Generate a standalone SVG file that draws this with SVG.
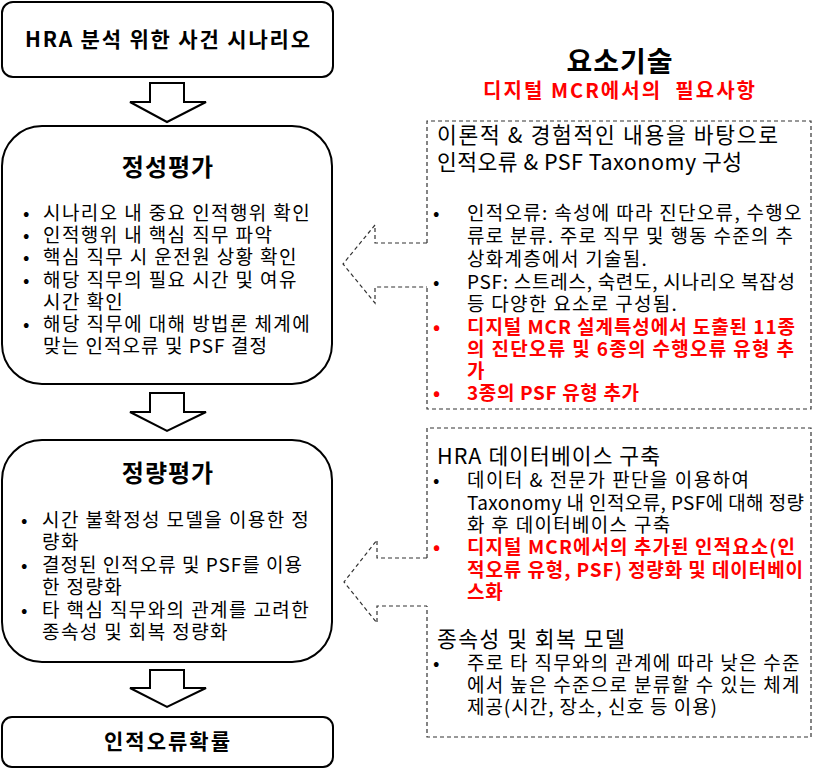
<svg xmlns="http://www.w3.org/2000/svg" width="816" height="769" viewBox="0 0 816 769">
<style>
text{font-family:"Noto Sans CJK KR","Noto Sans",sans-serif;fill:#000}
.box{fill:#fff;stroke:#000;stroke-width:2}
.blk{fill:#fff;stroke:#000;stroke-width:2;stroke-linejoin:miter}
.dash{fill:none;stroke:#333;stroke-width:1.2;stroke-dasharray:4 3}
.t{font-size:19px;letter-spacing:1.4px}
.rt{font-size:19px;letter-spacing:1.3px}
.h{font-size:21.5px;letter-spacing:1.5px}
.b{font-weight:bold}
.r{fill:#f00;font-weight:bold;letter-spacing:0.8px}
.c{text-anchor:middle}
.L{letter-spacing:0}
</style>
<rect width="816" height="769" fill="#fff"/>
<g id="connectors">
<polygon class="blk" points="150,83 184,83 184,102 206,102 167,122 130,102 150,102"/>
<polygon class="blk" points="150,393 184,393 184,412 206,412 167,431 130,412 150,412"/>
<polygon class="blk" points="150,670 184,670 184,688 206,688 167,707 130,688 150,688"/>
<polyline class="dash" points="427,243 375,243 375,225 343,264 375,303 375,287 427,287"/>
<polyline class="dash" points="427,558 377,558 377,540 344,582 377,623 377,606 427,606"/>
</g>
<g id="node-scenario">
<rect class="box" x="2" y="2" width="331" height="75" rx="11"/>
<text class="b c L" x="167.5" y="47" font-size="21" textLength="285" lengthAdjust="spacing">HRA 분석 위한 사건 시나리오</text>
</g>
<g id="node-qualitative">
<rect class="box" x="2" y="126" width="330" height="258" rx="40"/>
<text class="b c" x="168" y="176" font-size="24" letter-spacing="1">정성평가</text>
<g class="t">
<text x="23" y="220">•</text><text x="43" y="220">시나리오 내 중요 인적행위 확인</text>
<text x="23" y="242">•</text><text x="43" y="242">인적행위 내 핵심 직무 파악</text>
<text x="23" y="264">•</text><text x="43" y="264">핵심 직무 시 운전원 상황 확인</text>
<text x="23" y="287">•</text><text x="43" y="287">해당 직무의 필요 시간 및 여유</text>
<text x="43" y="309">시간 확인</text>
<text x="23" y="331">•</text><text x="43" y="331">해당 직무에 대해 방법론 체계에</text>
<text class="L" x="43" y="353" textLength="224" lengthAdjust="spacing">맞는 인적오류 및 PSF 결정</text>
</g>
</g>
<g id="node-quantitative">
<rect class="box" x="2" y="440" width="330" height="222" rx="40"/>
<text class="b c" x="168" y="482" font-size="24" letter-spacing="1">정량평가</text>
<g class="t">
<text x="21" y="527">•</text><text x="42" y="527">시간 불확정성 모델을 이용한 정</text>
<text x="42" y="549">량화</text>
<text x="21" y="572">•</text><text class="L" x="42" y="572" textLength="260" lengthAdjust="spacing">결정된 인적오류 및 PSF를 이용</text>
<text x="42" y="594">한 정량화</text>
<text x="21" y="617">•</text><text x="42" y="617">타 핵심 직무와의 관계를 고려한</text>
<text x="42" y="639">종속성 및 회복 정량화</text>
</g>
</g>
<g id="node-hep">
<rect class="box" x="2" y="717" width="331" height="50" rx="10"/>
<text class="b c" x="168" y="749" font-size="21" letter-spacing="2">인적오류확률</text>
</g>
<g id="node-header">
<text class="b c" x="620" y="72" font-size="28" letter-spacing="1">요소기술</text>
<text x="483" y="98" font-size="20" font-weight="bold" textLength="272" lengthAdjust="spacing" style="white-space:pre;fill:#f00">디지털 MCR에서의  필요사항</text>
</g>
<g id="node-taxonomy">
<path class="dash" d="M427,243 L427,121 L811,121 L811,409 L427,409 L427,287"/>
<text class="h L" x="437" y="143" textLength="341" lengthAdjust="spacing">이론적 &amp; 경험적인 내용을 바탕으로</text>
<text class="h L" x="437" y="170" textLength="305" lengthAdjust="spacing">인적오류 &amp; PSF Taxonomy 구성</text>
<g class="rt">
<text x="433" y="220">•</text><text x="467" y="220">인적오류: 속성에 따라 진단오류, 수행오</text>
<text x="467" y="243">류로 분류. 주로 직무 및 행동 수준의 추</text>
<text x="467" y="266">상화계층에서 기술됨.</text>
<text x="433" y="289">•</text><text class="L" x="467" y="289" textLength="328" lengthAdjust="spacing">PSF: 스트레스, 숙련도, 시나리오 복잡성</text>
<text x="467" y="311">등 다양한 요소로 구성됨.</text>
<text class="r" x="433" y="334">•</text><text class="r L" x="467" y="334" textLength="328" lengthAdjust="spacing">디지털 MCR 설계특성에서 도출된 11종</text>
<text class="r L" x="467" y="356" textLength="327" lengthAdjust="spacing">의 진단오류 및 6종의 수행오류 유형 추</text>
<text class="r" x="467" y="378">가</text>
<text class="r" x="433" y="400">•</text><text class="r L" x="467" y="400" textLength="172" lengthAdjust="spacing">3종의 PSF 유형 추가</text>
</g>
</g>
<g id="node-database">
<path class="dash" d="M427,558 L427,428 L811,428 L811,737 L427,737 L427,606"/>
<text class="h L" x="437" y="464" textLength="223" lengthAdjust="spacing">HRA 데이터베이스 구축</text>
<g class="rt">
<text x="433" y="487">•</text><text class="L" x="467" y="487" textLength="282" lengthAdjust="spacing">데이터 &amp; 전문가 판단을 이용하여</text>
<text class="L" x="467" y="510" textLength="337" lengthAdjust="spacing">Taxonomy 내 인적오류, PSF에 대해 정량</text>
<text x="467" y="532">화 후 데이터베이스 구축</text>
<text class="r" x="433" y="554">•</text><text class="r L" x="467" y="554" textLength="328" lengthAdjust="spacing">디지털 MCR에서의 추가된 인적요소(인</text>
<text class="r L" x="467" y="577" textLength="336" lengthAdjust="spacing">적오류 유형, PSF) 정량화 및 데이터베이</text>
<text class="r" x="467" y="599">스화</text>
</g>
<text class="h" x="437" y="647">종속성 및 회복 모델</text>
<g class="rt">
<text x="433" y="670">•</text><text x="467" y="670">주로 타 직무와의 관계에 따라 낮은 수준</text>
<text x="467" y="692">에서 높은 수준으로 분류할 수 있는 체계</text>
<text class="L" x="467" y="714" textLength="250" lengthAdjust="spacing">제공(시간, 장소, 신호 등 이용)</text>
</g>
</g>
</svg>
